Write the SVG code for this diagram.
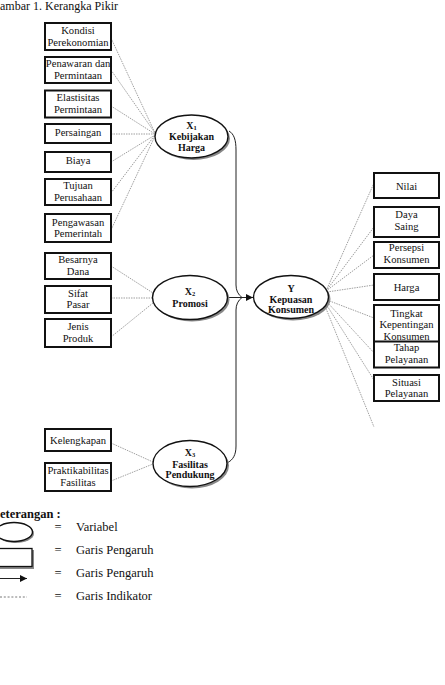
<svg xmlns="http://www.w3.org/2000/svg" width="445" height="685" viewBox="0 0 445 685">
<defs>
<style>
text{font-family:"Liberation Serif","Times New Roman",serif;fill:#111}
.bt{font-size:10.6px;text-anchor:middle}
.et{font-size:10px;font-weight:bold;text-anchor:middle}
.lt{font-size:12.5px}
.box{fill:#fff;stroke:#111;stroke-width:2}
.ell{fill:#fff;stroke:#111;stroke-width:1.4}
.sh{fill:#888;stroke:none}
.ind{fill:none;stroke:#777;stroke-width:0.7;stroke-dasharray:1.5 1}
.con{fill:none;stroke:#222;stroke-width:1}
</style>
<marker id="ah" viewBox="0 0 10 10" refX="10" refY="5" markerWidth="7" markerHeight="7" markerUnits="userSpaceOnUse" orient="auto"><path d="M0,0 L10,5 L0,10 z" fill="#111"/></marker>
</defs>
<rect width="445" height="685" fill="#fff"/>
<text class="lt" x="0" y="10" style="font-size:12px">ambar 1. Kerangka Pikir</text>

<g id="connectors">
<line class="ind" x1="111" y1="38" x2="155" y2="133"/>
<line class="ind" x1="111" y1="70" x2="155" y2="133"/>
<line class="ind" x1="111" y1="106" x2="155" y2="134"/>
<line class="ind" x1="111" y1="134" x2="155" y2="134"/>
<line class="ind" x1="111" y1="162" x2="155" y2="135"/>
<line class="ind" x1="111" y1="193" x2="155" y2="135"/>
<line class="ind" x1="111" y1="230" x2="155" y2="136"/>
<line class="ind" x1="111" y1="266" x2="153" y2="293"/>
<line class="ind" x1="111" y1="298" x2="153" y2="298"/>
<line class="ind" x1="111" y1="337" x2="153" y2="303"/>
<line class="ind" x1="111" y1="443" x2="153" y2="462"/>
<line class="ind" x1="111" y1="481" x2="153" y2="464"/>
<line class="ind" x1="326" y1="291" x2="374" y2="183"/>
<line class="ind" x1="326" y1="291" x2="374" y2="227"/>
<line class="ind" x1="326" y1="291" x2="374" y2="255"/>
<line class="ind" x1="327" y1="292" x2="374" y2="285"/>
<line class="ind" x1="327" y1="300" x2="374" y2="318"/>
<line class="ind" x1="327" y1="302" x2="376" y2="355"/>
<line class="ind" x1="326" y1="304" x2="374" y2="380"/>
<line class="ind" x1="325" y1="306" x2="374" y2="427"/>
<path class="con" d="M229,131 C234,134 236,140 236,150 L236,285 Q236,293 242,297.5 Q236,302 236,310 L236,446 C236,455 233,460 227,463"/>
<line class="con" x1="228" y1="297.5" x2="253" y2="297.5" marker-end="url(#ah)"/>
</g>

<g id="kondisi"><rect class="box" x="45" y="23" width="66" height="27"/><text class="bt" x="78" y="34">Kondisi</text><text class="bt" x="78" y="46">Perekonomian</text></g>
<g id="penawaran"><rect class="box" x="45" y="57" width="66" height="26"/><text class="bt" x="78" y="67">Penawaran dan</text><text class="bt" x="78" y="79">Permintaan</text></g>
<g id="elastisitas"><rect class="box" x="45" y="90.5" width="66" height="27"/><text class="bt" x="78" y="101">Elastisitas</text><text class="bt" x="78" y="113">Permintaan</text></g>
<g id="persaingan"><rect class="box" x="45" y="124" width="66" height="19"/><text class="bt" x="78" y="136">Persaingan</text></g>
<g id="biaya"><rect class="box" x="45" y="152" width="66" height="20"/><text class="bt" x="78" y="164">Biaya</text></g>
<g id="tujuan"><rect class="box" x="45" y="179" width="66" height="26"/><text class="bt" x="78" y="189">Tujuan</text><text class="bt" x="78" y="201">Perusahaan</text></g>
<g id="pengawasan"><rect class="box" x="45" y="214" width="66" height="28"/><text class="bt" x="78" y="225.5">Pengawasan</text><text class="bt" x="78" y="237">Pemerintah</text></g>

<g id="besarnya"><rect class="box" x="45" y="253" width="66" height="26"/><text class="bt" x="78" y="263">Besarnya</text><text class="bt" x="78" y="275">Dana</text></g>
<g id="sifat"><rect class="box" x="45" y="286" width="66" height="27"/><text class="bt" x="78" y="296.5">Sifat</text><text class="bt" x="78" y="308">Pasar</text></g>
<g id="jenis"><rect class="box" x="45" y="319" width="66" height="28"/><text class="bt" x="78" y="330">Jenis</text><text class="bt" x="78" y="341.5">Produk</text></g>

<g id="kelengkapan"><rect class="box" x="45" y="429" width="66" height="22"/><text class="bt" x="78" y="444">Kelengkapan</text></g>
<g id="praktikabilitas"><rect class="box" x="45" y="463" width="66" height="28"/><text class="bt" x="78" y="474">Praktikabilitas</text><text class="bt" x="78" y="485.5">Fasilitas</text></g>

<g id="nilai"><rect class="box" x="374" y="173" width="65" height="25"/><text class="bt" x="406.5" y="190">Nilai</text></g>
<g id="daya"><rect class="box" x="374" y="207" width="65" height="30"/><text class="bt" x="406.5" y="218">Daya</text><text class="bt" x="406.5" y="230">Saing</text></g>
<g id="persepsi"><rect class="box" x="374" y="242" width="65" height="26"/><text class="bt" x="406.5" y="251">Persepsi</text><text class="bt" x="406.5" y="263">Konsumen</text></g>
<g id="harga"><rect class="box" x="374" y="274" width="65" height="26"/><text class="bt" x="406.5" y="290.5">Harga</text></g>
<g id="tingkat"><rect class="box" x="374" y="305" width="65" height="37"/><text class="bt" x="406.5" y="316.5">Tingkat</text><text class="bt" x="406.5" y="328">Kepentingan</text><text class="bt" x="406.5" y="339.5">Konsumen</text></g>
<g id="tahap"><rect class="box" x="374" y="341.5" width="65" height="26"/><text class="bt" x="406.5" y="351">Tahap</text><text class="bt" x="406.5" y="363">Pelayanan</text></g>
<g id="situasi"><rect class="box" x="374" y="375" width="65" height="26"/><text class="bt" x="406.5" y="385.5">Situasi</text><text class="bt" x="406.5" y="397">Pelayanan</text></g>

<g id="x1"><ellipse class="sh" cx="193.5" cy="138.5" rx="36.5" ry="21.5"/><ellipse class="ell" cx="191.5" cy="136.5" rx="36.5" ry="21.5"/><text class="et" x="191.5" y="128.5">X<tspan font-size="6.5" dy="1.5">1</tspan></text><text class="et" x="191.5" y="140">Kebijakan</text><text class="et" x="191.5" y="150.5">Harga</text></g>
<g id="x2"><ellipse class="sh" cx="192" cy="299.5" rx="37.5" ry="22"/><ellipse class="ell" cx="190" cy="297.5" rx="37.5" ry="22"/><text class="et" x="190" y="294.5">X<tspan font-size="6.5" dy="1.5">2</tspan></text><text class="et" x="190" y="306.5">Promosi</text></g>
<g id="y"><ellipse class="sh" cx="293" cy="299" rx="37.5" ry="21.5"/><ellipse class="ell" cx="291" cy="297" rx="37.5" ry="21.5"/><text class="et" x="291" y="291.5">Y</text><text class="et" x="291" y="302.5">Kepuasan</text><text class="et" x="291" y="313">Konsumen</text></g>
<g id="x3"><ellipse class="sh" cx="192" cy="465.5" rx="37" ry="23"/><ellipse class="ell" cx="190" cy="463.5" rx="37" ry="23"/><text class="et" x="190" y="455.5">X<tspan font-size="6.5" dy="1.5">3</tspan></text><text class="et" x="190" y="467.5">Fasilitas</text><text class="et" x="190" y="478">Pendukung</text></g>

<g id="legend">
<text class="lt" x="0" y="518" style="font-weight:bold">eterangan :</text>
<ellipse class="sh" cx="15.5" cy="533.5" rx="18.5" ry="9.5"/>
<ellipse class="ell" cx="14" cy="532" rx="18.5" ry="9.5"/>
<rect class="sh" x="-8" y="550" width="42" height="19"/>
<rect x="-10" y="548.5" width="42" height="18" fill="#fff" stroke="#111" stroke-width="1.3"/>
<line class="con" x1="0" y1="578.5" x2="27" y2="578.5" marker-end="url(#ah)"/>
<line x1="0" y1="597" x2="27" y2="597" stroke="#555" stroke-width="0.8" stroke-dasharray="2 1.8"/>
<text class="lt" x="58" y="531" text-anchor="middle">=</text>
<text class="lt" x="58" y="554" text-anchor="middle">=</text>
<text class="lt" x="58" y="577" text-anchor="middle">=</text>
<text class="lt" x="58" y="600" text-anchor="middle">=</text>
<text class="lt" x="76" y="531">Variabel</text>
<text class="lt" x="76" y="554">Garis Pengaruh</text>
<text class="lt" x="76" y="577">Garis Pengaruh</text>
<text class="lt" x="76" y="600">Garis Indikator</text>
</g>
</svg>
